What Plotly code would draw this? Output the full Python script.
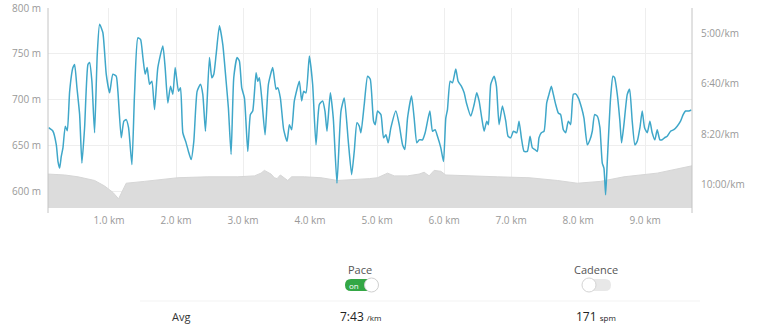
import plotly.graph_objects as go

# ---------------- data ----------------
pace_km = [0.10, 0.164, 0.214, 0.239, 0.264, 0.288, 0.313, 0.348, 0.378, 0.413, 0.462, 0.487, 0.522, 0.562,
           0.596, 0.636, 0.686, 0.711, 0.745, 0.785, 0.825, 0.860, 0.909, 0.959, 1.009, 1.058, 1.108, 1.133,
           1.183, 1.222, 1.257, 1.292, 1.342, 1.381, 1.431, 1.471, 1.506, 1.540, 1.570, 1.605, 1.640, 1.680,
           1.729, 1.804, 1.838, 1.878, 1.918, 1.953, 1.988, 2.037, 2.067, 2.102, 2.151, 2.186, 2.226, 2.266,
           2.315, 2.365, 2.400, 2.440, 2.499, 2.534, 2.564, 2.599, 2.648, 2.698, 2.748, 2.782, 2.822, 2.862,
           2.912, 2.946, 2.981, 3.021, 3.071, 3.110, 3.145, 3.195, 3.220, 3.244, 3.279, 3.329, 3.379, 3.443,
           3.493, 3.518, 3.557, 3.607, 3.657, 3.692, 3.726, 3.766, 3.841, 3.875, 3.905, 3.940, 3.990, 4.039,
           4.089, 4.139, 4.188, 4.223, 4.253, 4.303, 4.347, 4.402, 4.462, 4.511, 4.571, 4.621, 4.660, 4.700,
           4.735, 4.760, 4.809, 4.859, 4.899, 4.948, 4.973, 5.008, 5.058, 5.097, 5.132, 5.167, 5.207, 5.281,
           5.331, 5.381, 5.415, 5.455, 5.515, 5.554, 5.594, 5.629, 5.679, 5.718, 5.788, 5.828, 5.867, 5.902,
           5.952, 5.992, 6.026, 6.051, 6.091, 6.126, 6.175, 6.210, 6.260, 6.300, 6.334, 6.399, 6.449, 6.488,
           6.523, 6.563, 6.598, 6.637, 6.662, 6.697, 6.747, 6.782, 6.821, 6.871, 6.921, 6.955, 6.995, 7.035,
           7.085, 7.119, 7.154, 7.194, 7.243, 7.283, 7.318, 7.353, 7.392, 7.417, 7.452, 7.492, 7.532, 7.566,
           7.601, 7.631, 7.666, 7.705, 7.740, 7.780, 7.815, 7.854, 7.889, 7.929, 7.964, 8.003, 8.053, 8.088,
           8.138, 8.177, 8.212, 8.247, 8.287, 8.326, 8.361, 8.386, 8.411, 8.436, 8.485, 8.520, 8.545, 8.585,
           8.624, 8.649, 8.684, 8.734, 8.769, 8.808, 8.848, 8.883, 8.923, 8.957, 8.992, 9.032, 9.072, 9.106,
           9.146, 9.181, 9.221, 9.255, 9.290, 9.330, 9.380, 9.429, 9.479, 9.529, 9.568, 9.603, 9.653, 9.690]
pace_sec = [487, 494, 521, 554, 567, 544, 527, 484, 493, 415, 368, 362, 408, 461,
            557, 487, 362, 358, 395, 497, 342, 282, 299, 381, 418, 381, 385, 415,
            507, 474, 471, 487, 560, 421, 309, 312, 348, 381, 368, 401, 395, 451,
            368, 325, 368, 438, 405, 421, 368, 415, 408, 497, 517, 534, 550, 514,
            415, 401, 421, 494, 348, 388, 381, 342, 285, 322, 395, 448, 540, 388,
            348, 355, 408, 428, 534, 461, 454, 378, 395, 388, 428, 501, 401, 368,
            411, 408, 428, 491, 514, 481, 491, 434, 395, 434, 415, 418, 345, 401,
            521, 441, 434, 454, 494, 418, 468, 597, 454, 428, 514, 580, 534, 477,
            484, 497, 441, 385, 391, 474, 481, 454, 461, 507, 501, 517, 487, 454,
            481, 521, 530, 468, 424, 468, 517, 511, 511, 497, 454, 494, 491, 504,
            527, 554, 468, 451, 395, 398, 371, 395, 405, 418, 438, 464, 441, 418,
            434, 468, 494, 474, 481, 401, 385, 405, 481, 444, 474, 504, 507, 494,
            497, 474, 507, 534, 534, 504, 527, 530, 534, 507, 497, 494, 438, 421,
            405, 421, 441, 458, 461, 491, 497, 474, 481, 421, 420, 428, 448, 468,
            521, 511, 494, 461, 464, 487, 557, 567, 620, 554, 428, 385, 388, 421,
            474, 517, 481, 421, 411, 474, 521, 514, 487, 454, 487, 497, 474, 497,
            511, 491, 511, 511, 507, 504, 494, 491, 484, 474, 461, 454, 454, 452]

elev_km = [0.09, 0.338, 0.537, 0.785, 0.934, 1.059, 1.143, 1.193, 1.257, 1.530, 1.779, 2.027, 2.474,
           2.921, 3.170, 3.269, 3.319, 3.369, 3.418, 3.468, 3.508, 3.557, 3.607, 3.667, 3.726, 3.915,
           4.164, 4.412, 4.884, 5.008, 5.157, 5.256, 5.455, 5.629, 5.703, 5.778, 5.852, 5.952, 6.026,
           6.300, 6.796, 7.268, 7.690, 7.989, 8.336, 8.684, 9.181, 9.70]
elev_m = [619, 618, 616, 612, 606, 599, 592, 599, 609, 611, 613, 615, 616,
          616, 617, 620, 623, 621, 619, 615, 614, 618, 615, 612, 616, 616,
          615, 612, 614, 615, 620, 617, 617, 619, 621, 617, 623, 622, 618,
          617, 616, 615, 612, 609, 611, 616, 620, 628]

km_ticks = [1, 2, 3, 4, 5, 6, 7, 8, 9]
km_labels = ["1.0 km", "2.0 km", "3.0 km", "4.0 km", "5.0 km", "6.0 km", "7.0 km", "8.0 km", "9.0 km"]
elev_ticks = [600, 650, 700, 750, 800]
elev_labels = ["600 m", "650 m", "700 m", "750 m", "800 m"]
pace_ticks = [300, 400, 500, 600]
pace_labels = ["5:00/km", "6:40/km", "8:20/km", "10:00/km"]

W, H = 768, 331
def px(x):
    return x / W
def py(y):
    return 1 - y / H

FONT = "Open Sans"
fig = go.Figure()
fig.add_trace(go.Scatter(x=elev_km, y=elev_m, mode="lines", fill="tozeroy",
                         fillcolor="#dcdcdc", line=dict(color="#d6d6d6", width=1),
                         hoverinfo="skip", yaxis="y"))
fig.add_trace(go.Scatter(x=pace_km, y=pace_sec, mode="lines",
                         line=dict(color="#3fa7c9", width=1.5, shape="spline", smoothing=0.5),
                         yaxis="y2"))

x0, x1, yt, yb = 48, 692, 8, 208
fig.update_layout(
    template="none",
    width=W, height=H, margin=dict(l=0, r=0, t=0, b=0, pad=0, autoexpand=False),
    paper_bgcolor="white", plot_bgcolor="white", showlegend=False,
    font=dict(family=FONT, color="#999999", size=10),
    xaxis=dict(domain=[px(x0), px(x1)], range=[0.09, 9.70], tickvals=km_ticks, ticktext=km_labels,
               showgrid=True, gridcolor="#eeeeee", gridwidth=1, zeroline=False, showline=False,
               ticks="", automargin=False, ticklabelstandoff=5, tickfont=dict(size=10, color="#999999")),
    yaxis=dict(domain=[py(yb), py(yt)], range=[582, 800], tickvals=elev_ticks, ticktext=elev_labels,
               showgrid=True, gridcolor="#eeeeee", zeroline=False, showline=False, ticks="",
               automargin=False, ticklabelstandoff=6, tickfont=dict(size=10, color="#999999")),
    yaxis2=dict(overlaying="y", side="right", range=[646, 250], tickvals=pace_ticks,
                ticktext=pace_labels, showgrid=False, zeroline=False, showline=False, ticks="",
                automargin=False, ticklabelstandoff=8, tickfont=dict(size=10, color="#999999")),
)

shapes = []
# axis lines (extend slightly below the plot)
for xx in (x0, x1):
    shapes.append(dict(type="line", xref="paper", yref="paper", x0=px(xx), x1=px(xx),
                       y0=py(yt), y1=py(213), line=dict(color="#c4c4c4", width=1)))
# faint separator line
shapes.append(dict(type="line", xref="paper", yref="paper", x0=px(140), x1=px(700),
                   y0=py(301), y1=py(301), line=dict(color="#f3f3f3", width=1)))

def rrect(xa, xb, ya, yb_, r):
    # rounded rectangle in pixel space -> paper path
    p = []
    p.append(f"M {px(xa + r)},{py(ya)}")
    p.append(f"L {px(xb - r)},{py(ya)}")
    p.append(f"Q {px(xb)},{py(ya)} {px(xb)},{py(ya + r)}")
    p.append(f"L {px(xb)},{py(yb_ - r)}")
    p.append(f"Q {px(xb)},{py(yb_)} {px(xb - r)},{py(yb_)}")
    p.append(f"L {px(xa + r)},{py(yb_)}")
    p.append(f"Q {px(xa)},{py(yb_)} {px(xa)},{py(yb_ - r)}")
    p.append(f"L {px(xa)},{py(ya + r)}")
    p.append(f"Q {px(xa)},{py(ya)} {px(xa + r)},{py(ya)}")
    return " ".join(p) + " Z"

# Pace toggle (on)
shapes.append(dict(type="path", xref="paper", yref="paper", path=rrect(345, 378, 279, 291, 6),
                   fillcolor="#34a745", line=dict(width=0)))
shapes.append(dict(type="circle", xref="paper", yref="paper", x0=px(364.5), x1=px(378.5),
                   y0=py(278), y1=py(292), fillcolor="white", line=dict(color="#d0d0d0", width=1)))
# Cadence toggle (off)
shapes.append(dict(type="path", xref="paper", yref="paper", path=rrect(583, 611, 279, 291, 6),
                   fillcolor="#e8e8e8", line=dict(width=0)))
shapes.append(dict(type="circle", xref="paper", yref="paper", x0=px(582), x1=px(596),
                   y0=py(278), y1=py(292), fillcolor="white", line=dict(color="#d4d4d4", width=1)))
fig.update_layout(shapes=shapes)

ann = [
    dict(text="Pace", x=px(360), y=py(269), font=dict(size=11, color="#555555")),
    dict(text="Cadence", x=px(596), y=py(269), font=dict(size=11, color="#555555")),
    dict(text="on", x=px(354), y=py(285), font=dict(size=8, color="white")),
    dict(text="Avg", x=px(181), y=py(316), font=dict(size=11, color="#333333")),
    dict(text="7:43 <span style='font-size:8px'>/km</span>", x=px(360), y=py(316),
         font=dict(size=12, color="#222222")),
    dict(text="171 <span style='font-size:8px'>spm</span>", x=px(596), y=py(316),
         font=dict(size=12, color="#222222")),
]
for a in ann:
    a.update(xref="paper", yref="paper", showarrow=False, xanchor="center", yanchor="middle")
fig.update_layout(annotations=ann)

fig.write_html("out.html")
